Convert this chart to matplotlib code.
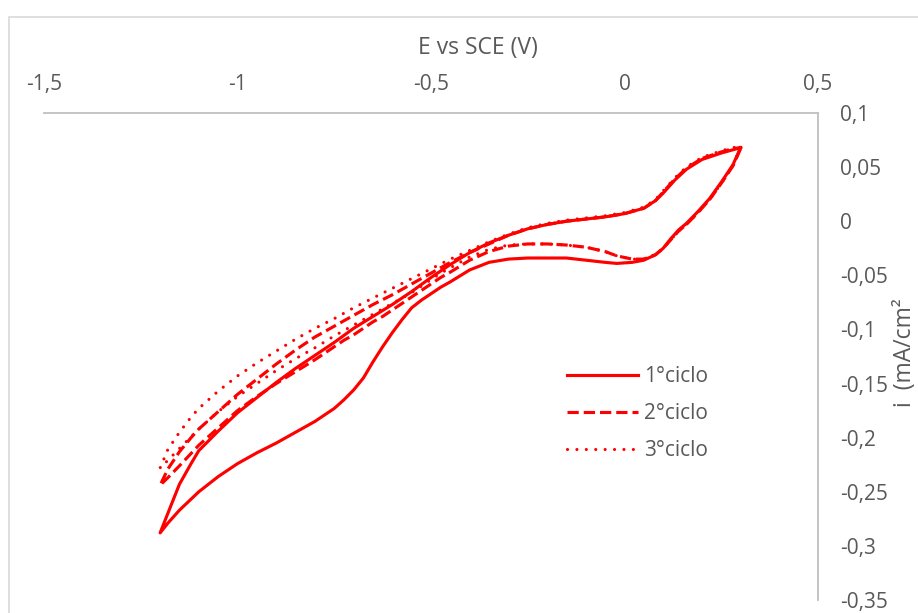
import matplotlib
matplotlib.use("Agg")
import matplotlib.pyplot as plt
from matplotlib.patches import Rectangle

plt.rcParams["font.family"] = ["Open Sans", "DejaVu Sans"]

# potential grids (V vs SCE): cathodic sweep 0.3 -> -1.2, anodic sweep -1.2 -> 0.3
E_cat = [0.30, 0.28, 0.25, 0.22, 0.19, 0.16, 0.14, 0.12, 0.10, 0.08, 0.05, 0.02,
         -0.02, -0.05, -0.10, -0.15, -0.20, -0.25, -0.30, -0.35, -0.40, -0.45,
         -0.475, -0.50, -0.525, -0.55, -0.575, -0.60, -0.625, -0.65, -0.675, -0.70,
         -0.725, -0.75, -0.80, -0.85, -0.90, -0.95, -1.00, -1.05, -1.10, -1.15,
         -1.18, -1.20]
E_an = [-1.20, -1.18, -1.15, -1.12, -1.10, -1.05, -1.00, -0.95, -0.90, -0.85,
        -0.80, -0.75, -0.70, -0.65, -0.60, -0.55, -0.50, -0.45, -0.40, -0.35,
        -0.30, -0.25, -0.20, -0.15, -0.10, -0.05, 0.00, 0.05, 0.08, 0.10, 0.13,
        0.16, 0.20, 0.25, 0.28, 0.30]

# current density (mA/cm2)
i1_cat = [0.068, 0.052, 0.036, 0.021, 0.009, -0.002, -0.008, -0.016, -0.025, -0.031,
          -0.036, -0.038, -0.039, -0.038, -0.036, -0.034, -0.034, -0.034, -0.035,
          -0.038, -0.045, -0.056, -0.061, -0.067, -0.073, -0.080, -0.091, -0.103,
          -0.116, -0.130, -0.145, -0.156, -0.165, -0.173, -0.185, -0.195, -0.205,
          -0.214, -0.224, -0.236, -0.250, -0.267, -0.279, -0.288]
i1_an = [-0.288, -0.270, -0.243, -0.224, -0.212, -0.194, -0.177, -0.163, -0.149,
         -0.136, -0.124, -0.112, -0.099, -0.088, -0.077, -0.065, -0.052, -0.040,
         -0.029, -0.020, -0.013, -0.007, -0.003, 0.000, 0.002, 0.004, 0.007, 0.012,
         0.019, 0.026, 0.038, 0.048, 0.057, 0.063, 0.066, 0.068]

i2_cat = [0.067, 0.051, 0.035, 0.020, 0.008, -0.003, -0.009, -0.017, -0.025, -0.031,
          -0.035, -0.035, -0.032, -0.028, -0.024, -0.022, -0.021, -0.021, -0.023,
          -0.028, -0.036, -0.047, -0.052, -0.058, -0.064, -0.070, -0.076, -0.082,
          -0.088, -0.093, -0.099, -0.105, -0.110, -0.116, -0.128, -0.139, -0.150,
          -0.162, -0.175, -0.191, -0.207, -0.226, -0.237, -0.244]
i2_an = [-0.244, -0.229, -0.213, -0.200, -0.192, -0.176, -0.160, -0.146, -0.132,
         -0.119, -0.107, -0.097, -0.087, -0.077, -0.068, -0.058, -0.048, -0.038,
         -0.029, -0.021, -0.013, -0.007, -0.003, 0.000, 0.002, 0.004, 0.007, 0.012,
         0.019, 0.027, 0.039, 0.049, 0.058, 0.064, 0.067, 0.068]

i3_cat = [0.068, 0.051, 0.035, 0.020, 0.008, -0.003, -0.009, -0.017, -0.025, -0.031,
          -0.035, -0.035, -0.032, -0.028, -0.024, -0.022, -0.021, -0.021, -0.022,
          -0.026, -0.033, -0.043, -0.048, -0.054, -0.060, -0.066, -0.071, -0.076,
          -0.081, -0.086, -0.091, -0.096, -0.101, -0.106, -0.117, -0.127, -0.138,
          -0.150, -0.162, -0.176, -0.192, -0.210, -0.221, -0.228]
i3_an = [-0.228, -0.211, -0.195, -0.181, -0.173, -0.157, -0.143, -0.131, -0.120,
         -0.109, -0.099, -0.090, -0.080, -0.071, -0.062, -0.053, -0.044, -0.035,
         -0.027, -0.019, -0.012, -0.006, -0.002, 0.001, 0.003, 0.005, 0.008, 0.013,
         0.020, 0.028, 0.040, 0.050, 0.059, 0.065, 0.068, 0.069]

labels = ["1°ciclo", "2°ciclo", "3°ciclo"]
xticks = [-1.5, -1, -0.5, 0, 0.5]
xtick_labels = ["-1,5", "-1", "-0,5", "0", "0,5"]
yticks = [0.1, 0.05, 0, -0.05, -0.1, -0.15, -0.2, -0.25, -0.3, -0.35]
ytick_labels = ["0,1", "0,05", "0", "-0,05", "-0,1", "-0,15", "-0,2", "-0,25", "-0,3", "-0,35"]

RED = "#ff0000"
TXT = "#595959"
AXC = "#bfbfbf"
W, H = 918, 613

fig = plt.figure(figsize=(W / 100, H / 100), dpi=100)
fig.patch.set_facecolor("white")
ax = fig.add_axes([44 / W, 1 - 600 / H, 774 / W, 487 / H])

styles = [dict(ls="-"),
          dict(dashes=(3.6, 1.6)),
          dict(dashes=(0.01, 3.0), dash_capstyle="round")]
cycles = [(i1_cat, i1_an), (i2_cat, i2_an), (i3_cat, i3_an)]
for (ic, ia), st, lab in zip(cycles, styles, labels):
    ax.plot(E_cat + E_an, ic + ia, color=RED, lw=2.25, label=lab,
            solid_joinstyle="round", **st)

ax.set_xlim(-1.5, 0.5)
ax.set_ylim(-0.35, 0.1)
ax.set_xticks(xticks)
ax.set_xticklabels(xtick_labels)
ax.set_yticks(yticks)
ax.set_yticklabels(ytick_labels)
ax.xaxis.tick_top()
ax.yaxis.tick_right()
ax.tick_params(length=0, colors=TXT, labelsize=15)
ax.tick_params(axis="x", pad=13)
ax.tick_params(axis="y", pad=16)
for s in ("left", "bottom"):
    ax.spines[s].set_visible(False)
for s in ("top", "right"):
    ax.spines[s].set_color(AXC)
    ax.spines[s].set_linewidth(1.3)

fig.text(478 / W, 1 - 48 / H, "E vs SCE (V)", color=TXT, fontsize=16.5,
         ha="center", va="center")
fig.text(905 / W, 1 - 353 / H, "i  (mA/cm²", color=TXT, fontsize=16.5,
         ha="center", va="center", rotation=90)

leg = ax.legend(loc="upper left", bbox_to_anchor=(567 / W, 1 - 366 / H),
                bbox_transform=fig.transFigure, frameon=False, fontsize=15,
                handlelength=3.4, handletextpad=0.3, labelspacing=0.78,
                borderpad=0, borderaxespad=0)
for t in leg.get_texts():
    t.set_color(TXT)

# chart-area border
fig.patches.append(Rectangle((9 / W, -0.1), 1.2, 1.1 - 17 / H, transform=fig.transFigure,
                             fill=False, edgecolor="#d9d9d9", lw=1.2))

fig.savefig("out.png", dpi=100)
